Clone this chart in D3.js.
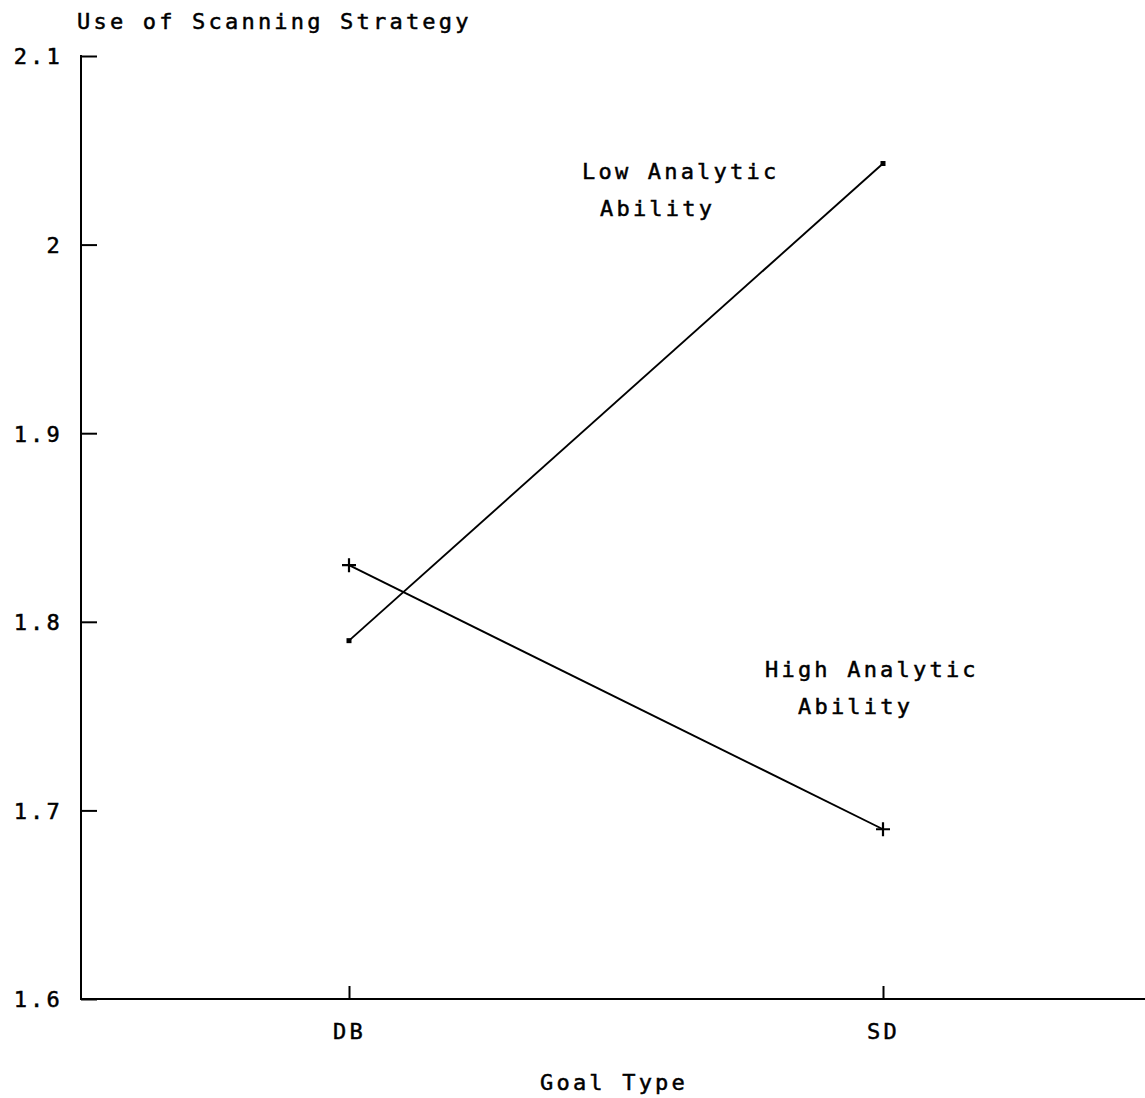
<!DOCTYPE html>
<html>
<head>
<meta charset="utf-8">
<script src="https://cdn.jsdelivr.net/npm/d3@7"></script>
<style>
  body { margin: 0; background: #fff; }
  text { font-family: "DejaVu Sans Mono", monospace; font-size: 22px; fill: #000; letter-spacing: 3.2px;
         stroke: #000; stroke-width: 0.5px; }
</style>
</head>
<body>
<div id="chart-area"></div>
<script>
// DATA ------------------------------------------------------------
var goalTypes = ["DB", "SD"];
var lowAnalytic = [1.79, 2.043];
var highAnalytic = [1.83, 1.69];
var yTicks = [1.6, 1.7, 1.8, 1.9, 2, 2.1];

var W = 1145, H = 1098;
var margin = { left: 81, top: 56, right: 0, bottom: 99 };

var svg = d3.select("#chart-area").append("svg")
    .attr("width", W)
    .attr("height", H);

// SCALES ----------------------------------------------------------
var x = d3.scalePoint()
    .domain(goalTypes)
    .range([349, 883]);
var y = d3.scaleLinear()
    .domain([1.6, 2.1])
    .range([H - margin.bottom, margin.top]);

// AXES ------------------------------------------------------------
var yAxis = svg.append("g")
    .attr("transform", "translate(" + margin.left + ",0)")
    .call(d3.axisLeft(y).tickValues(yTicks).tickFormat(d => d).tickSize(-16).tickPadding(18));
yAxis.select(".domain").remove();
yAxis.selectAll("line").attr("stroke", "#000").attr("stroke-width", 2);
yAxis.selectAll("text").attr("font-size", null).attr("font-family", null).attr("dy", "0.36em");

svg.append("line")
    .attr("x1", margin.left).attr("x2", margin.left)
    .attr("y1", y(2.1) - 1).attr("y2", y(1.6) + 1)
    .attr("stroke", "#000").attr("stroke-width", 2);

var xAxis = svg.append("g")
    .attr("transform", "translate(0," + y(1.6) + ")")
    .call(d3.axisBottom(x).tickSize(-13).tickPadding(0));
xAxis.select(".domain").remove();
xAxis.selectAll("line").attr("stroke", "#000").attr("stroke-width", 2);
xAxis.selectAll("text").attr("font-size", null).attr("font-family", null)
    .attr("y", 40).attr("dy", null);

svg.append("line")
    .attr("x1", margin.left).attr("x2", W)
    .attr("y1", y(1.6)).attr("y2", y(1.6))
    .attr("stroke", "#000").attr("stroke-width", 2);

// TITLES ----------------------------------------------------------
svg.append("text")
    .attr("x", 77).attr("y", 29)
    .text("Use of Scanning Strategy");
svg.append("text")
    .attr("x", 540).attr("y", 1090)
    .text("Goal Type");

// LINES -----------------------------------------------------------
var line = d3.line()
    .x((d, i) => x(goalTypes[i]))
    .y(d => y(d));

svg.append("path")
    .datum(lowAnalytic)
    .attr("d", line)
    .attr("fill", "none").attr("stroke", "#000").attr("stroke-width", 1.9);
svg.append("path")
    .datum(highAnalytic)
    .attr("d", line)
    .attr("fill", "none").attr("stroke", "#000").attr("stroke-width", 1.9);

// markers: small dots for low, plus signs for high
svg.selectAll(".low-pt").data(lowAnalytic).enter()
    .append("rect")
    .attr("class", "low-pt")
    .attr("x", (d, i) => x(goalTypes[i]) - 2.5)
    .attr("y", d => y(d) - 2.5)
    .attr("width", 5).attr("height", 5)
    .attr("fill", "#000");
svg.selectAll(".high-pt").data(highAnalytic).enter()
    .append("path")
    .attr("class", "high-pt")
    .attr("d", (d, i) => {
        var cx = x(goalTypes[i]), cy = y(d);
        return "M" + (cx - 7) + "," + cy + "H" + (cx + 7) + "M" + cx + "," + (cy - 7) + "V" + (cy + 7);
    })
    .attr("stroke", "#000").attr("stroke-width", 2.2);

// LABELS ----------------------------------------------------------
svg.append("text").attr("x", 582).attr("y", 179).text("Low Analytic");
svg.append("text").attr("x", 600).attr("y", 216).text("Ability");
svg.append("text").attr("x", 765).attr("y", 677).text("High Analytic");
svg.append("text").attr("x", 798).attr("y", 714).text("Ability");
</script>
</body>
</html>
